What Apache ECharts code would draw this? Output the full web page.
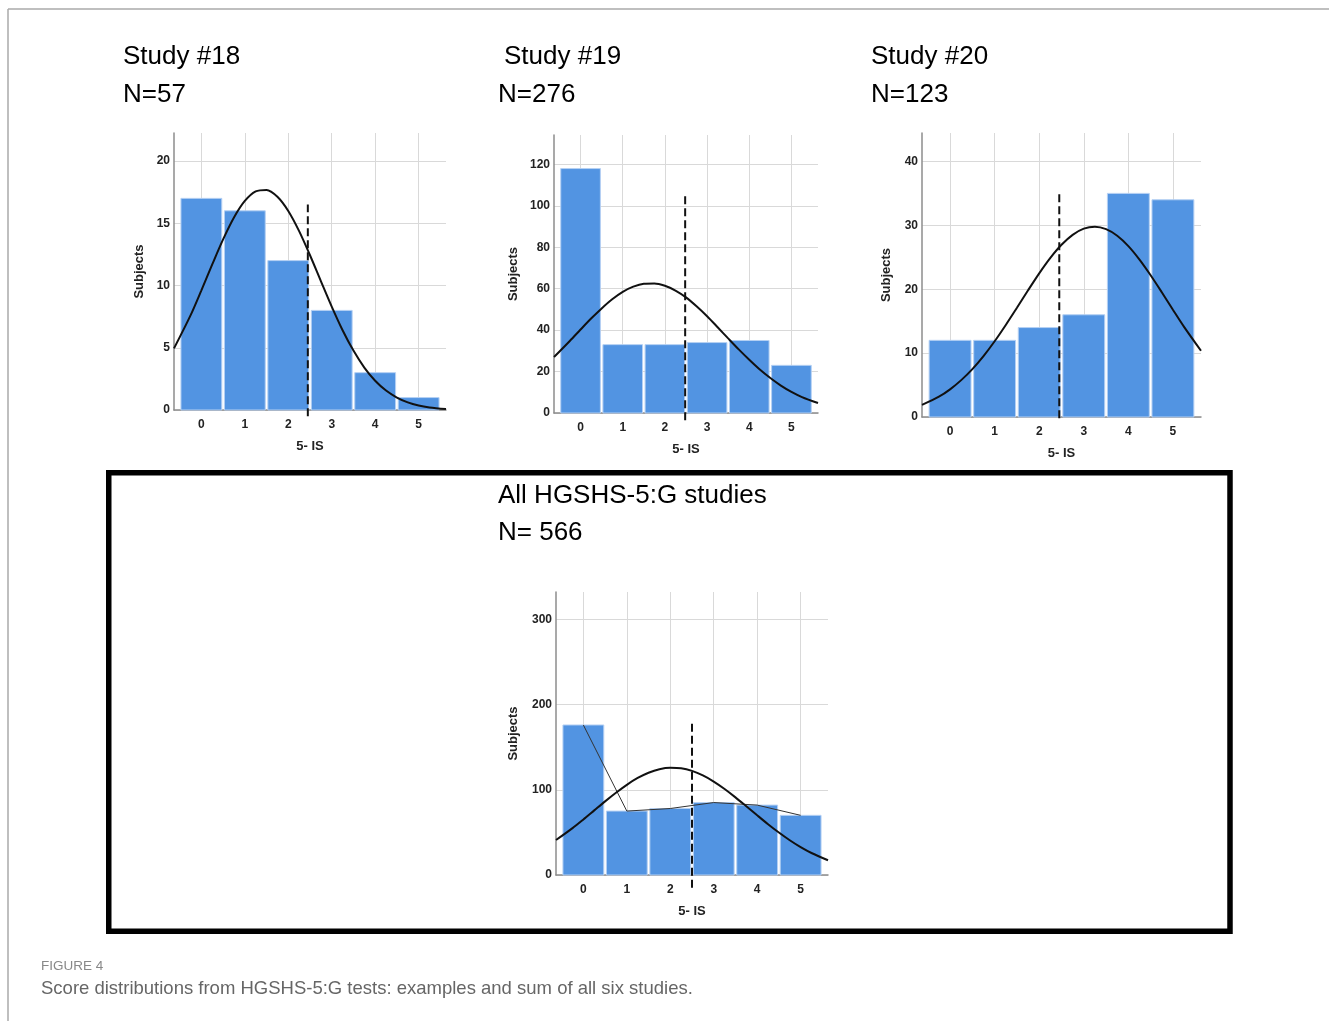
<!DOCTYPE html>
<html>
<head>
<meta charset="utf-8">
<title>HGSHS-5:G score distributions</title>
<script src="https://cdn.jsdelivr.net/npm/echarts@6/dist/echarts.min.js"></script>
<style>
  html, body { margin: 0; padding: 0; background: #fff; }
  #chart { width: 1329px; height: 1021px; }
</style>
</head>
<body>
<div id="chart"></div>
<script>
// score categories (5- IS)
var scores = [0, 1, 2, 3, 4, 5];

// subjects per score
var study18 = [17, 16, 12, 8, 3, 1];
var study19 = [118, 33, 33, 34, 35, 23];
var study20 = [12, 12, 14, 16, 35, 34];
var allStudies = [176, 75, 78, 85, 82, 70];

// y tick labels
var ticks18 = [0, 5, 10, 15, 20];
var ticks19 = [0, 20, 40, 60, 80, 100, 120];
var ticks20 = [0, 10, 20, 30, 40];
var ticksAll = [0, 100, 200, 300];

// normal curves, points
var curveX = [-0.63, -0.25, 0, 0.25, 0.5, 0.75, 1, 1.25, 1.5, 1.75, 2, 2.25, 2.5,
              2.75, 3, 3.25, 3.5, 3.75, 4, 4.25, 4.5, 4.75, 5, 5.25, 5.63];
var curveY18 = [4.95, 7.6, 9.61, 11.69, 13.7, 15.46, 16.79, 17.56, 17.68, 17.13, 15.99, 14.37, 12.43,
                10.36, 8.31, 6.41, 4.77, 3.41, 2.35, 1.56, 1.0, 0.61, 0.36, 0.21, 0.08];
var curveY19 = [27.0, 34.9, 40.3, 45.6, 50.5, 54.9, 58.5, 61.0, 62.4, 62.55, 61.4, 59.1, 55.8,
                51.5, 46.7, 41.4, 36.0, 30.7, 25.7, 21.0, 16.9, 13.25, 10.2, 7.7, 4.8];
var curveY20 = [1.9, 3.18, 4.33, 5.77, 7.5, 9.54, 11.86, 14.41, 17.1, 19.83, 22.48, 24.9, 26.95,
                28.51, 29.48, 29.78, 29.4, 28.37, 26.75, 24.64, 22.19, 19.53, 16.79, 14.11, 10.37];
var curveYAll = [41.0, 55.0, 65.2, 75.8, 86.4, 96.5, 105.8, 113.8, 120.0, 124.1, 125.8, 125.2, 122.1,
                 116.8, 109.6, 100.9, 91.1, 80.6, 70.0, 59.6, 49.8, 40.75, 32.7, 25.8, 17.3];

// dashed cut-off lines: [x, bottom, top]
var cut18 = [2.45, -0.5, 16.5];
var cut19 = [2.48, -3.5, 105];
var cut20 = [2.45, -0.2, 35];
var cutAll = [2.5, -15, 178];

var BAR = '#5294e2';
var chart = echarts.init(document.getElementById('chart'));

var panels = [
  { vals: study18, ticks: ticks18, ymax: 22.25, cy: curveY18, cut: cut18, grid: { left: 174, top: 133, width: 272, height: 277 }, gapY: 28 },
  { vals: study19, ticks: ticks19, ymax: 134.2, cy: curveY19, cut: cut19, grid: { left: 554, top: 135, width: 264, height: 278 }, gapY: 34 },
  { vals: study20, ticks: ticks20, ymax: 44.45, cy: curveY20, cut: cut20, grid: { left: 922, top: 133, width: 279, height: 284 }, gapY: 29 },
  { vals: allStudies, ticks: ticksAll, ymax: 332, cy: curveYAll, cut: cutAll, grid: { left: 556, top: 592, width: 272, height: 283 }, gapY: 36, poly: true }
];

var grids = [], xAxes = [], yAxes = [], series = [];
panels.forEach(function (p, i) {
  grids.push(p.grid);
  xAxes.push({
    type: 'value', gridIndex: i, min: -0.63, max: 5.63,
    name: '5- IS', nameLocation: 'middle', nameGap: 30,
    nameTextStyle: { fontFamily: 'Liberation Sans', fontWeight: 'bold', fontSize: 13, color: '#222' },
    axisLine: { onZero: false, lineStyle: { color: '#8c8c8c', width: 1.5 } },
    axisTick: { show: false, customValues: scores },
    axisLabel: { customValues: scores, margin: 9, fontFamily: 'Liberation Sans', fontWeight: 'bold', fontSize: 12, color: '#222' },
    splitLine: { show: true, lineStyle: { color: '#d9d9d9', width: 1 } }
  });
  yAxes.push({
    type: 'value', gridIndex: i, min: 0, max: p.ymax,
    name: 'Subjects', nameLocation: 'middle', nameGap: p.gapY, nameRotate: 90,
    nameTextStyle: { fontFamily: 'Liberation Sans', fontWeight: 'bold', fontSize: 13, color: '#222' },
    axisLine: { show: true, onZero: false, lineStyle: { color: '#8c8c8c', width: 1.5 } },
    axisTick: { show: false, customValues: p.ticks },
    axisLabel: { customValues: p.ticks, margin: 4, fontFamily: 'Liberation Sans', fontWeight: 'bold', fontSize: 12, color: '#222' },
    splitLine: { show: true, lineStyle: { color: '#d9d9d9', width: 1 } }
  });
  series.push({
    type: 'custom', xAxisIndex: i, yAxisIndex: i, z: 2,
    data: scores.map(function (s, k) { return [s, p.vals[k]]; }),
    renderItem: function (params, api) {
      var a = api.coord([api.value(0) - 0.47, api.value(1)]);
      var b = api.coord([api.value(0) + 0.47, 0]);
      return {
        type: 'rect',
        shape: { x: a[0], y: a[1], width: b[0] - a[0], height: b[1] - a[1] },
        style: { fill: BAR, stroke: '#b5d0f3', lineWidth: 1 }
      };
    }
  });
  if (p.poly) {
    series.push({
      type: 'line', xAxisIndex: i, yAxisIndex: i, z: 3, symbol: 'none',
      data: scores.map(function (s, k) { return [s, p.vals[k]]; }),
      lineStyle: { color: '#333', width: 1 }
    });
  }
  series.push({
    type: 'line', xAxisIndex: i, yAxisIndex: i, z: 4, symbol: 'none', smooth: 0.3, clip: false,
    data: curveX.map(function (x, k) { return [x, p.cy[k]]; }),
    lineStyle: { color: '#111', width: 2 }
  });
  series.push({
    type: 'line', xAxisIndex: i, yAxisIndex: i, z: 5, symbol: 'none', clip: false,
    data: [[p.cut[0], p.cut[1]], [p.cut[0], p.cut[2]]],
    lineStyle: { color: '#111', width: 2, type: [8, 4] }
  });
});

function label(x, y, text, size, color, weight) {
  return {
    type: 'text', x: x, y: y,
    style: { text: text, fontFamily: 'Liberation Sans', fontSize: size, fill: color, fontWeight: weight || 'normal', verticalAlign: 'middle' }
  };
}

chart.setOption({
  backgroundColor: '#fff',
  animation: false,
  grid: grids,
  xAxis: xAxes,
  yAxis: yAxes,
  series: series,
  graphic: [
    { type: 'line', shape: { x1: 8, y1: 9, x2: 1329, y2: 9 }, style: { stroke: '#aaa', lineWidth: 1.5 } },
    { type: 'line', shape: { x1: 8, y1: 9, x2: 8, y2: 1021 }, style: { stroke: '#aaa', lineWidth: 1.5 } },
    { type: 'rect', shape: { x: 108.75, y: 472.75, width: 1121.25, height: 458.5 }, style: { fill: 'none', stroke: '#000', lineWidth: 5.5 } },
    label(123, 57, 'Study #18', 26, '#000'),
    label(123, 95, 'N=57', 26, '#000'),
    label(504, 57, 'Study #19', 26, '#000'),
    label(498, 95, 'N=276', 26, '#000'),
    label(871, 57, 'Study #20', 26, '#000'),
    label(871, 95, 'N=123', 26, '#000'),
    label(498, 496, 'All HGSHS-5:G studies', 26, '#000'),
    label(498, 533, 'N= 566', 26, '#000'),
    label(41, 966, 'FIGURE 4', 13.5, '#888'),
    label(41, 989, 'Score distributions from HGSHS-5:G tests: examples and sum of all six studies.', 18.5, '#666')
  ]
});
</script>
</body>
</html>
